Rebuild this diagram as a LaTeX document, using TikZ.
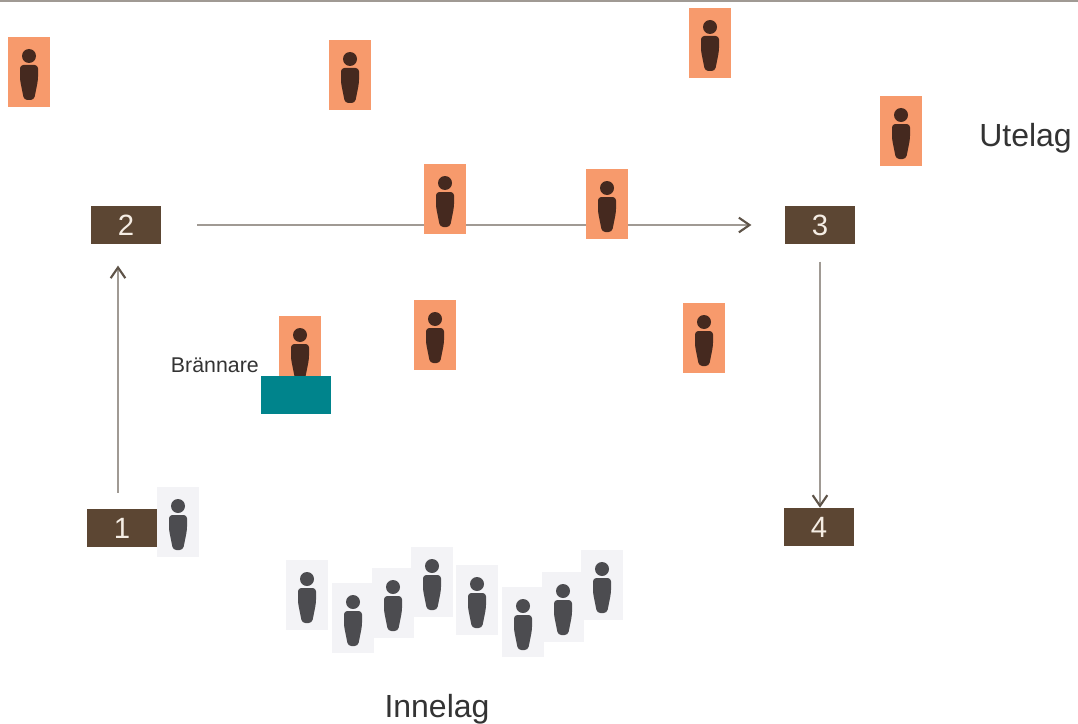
\documentclass[tikz,border=0pt]{standalone}
\usepackage{fontspec}
\setmainfont{Liberation Sans}
\usetikzlibrary{arrows.meta,positioning}

% one figure: backing card, head and body
\newcommand*{\person}[5]{%
  \node [#4] (#1) at (#2,#3) {};
  \begin{scope}[shift={(#1.center)}]
    \fill [#5] (0,-16) circle (5.25pt);
    \fill [#5, rounded corners=2.5pt]
      (-9,-7) -- (9,-7) -- (9,8) -- (5,28) -- (-5,28) -- (-9,8) -- cycle;
  \end{scope}
}

\begin{document}
\begin{tikzpicture}[x=0.75pt, y=-0.75pt,
    card_out/.style ={rectangle, fill=cardorange, minimum width=31.5pt, minimum height=52.5pt, inner sep=0pt},
    card_in/.style ={rectangle, fill=cardgrey, minimum width=31.5pt, minimum height=52.5pt, inner sep=0pt},
    figure_out/.style ={fill=figbrown},
    figure_in/.style ={fill=figgrey},
    block_number/.style ={rectangle, fill=boxbrown, text=numbertext, font=\fontsize{22}{26}\selectfont,
      minimum width=52.5pt, minimum height=28.5pt, inner sep=0pt},
    block_base/.style ={rectangle, fill=baseteal, minimum width=53pt, minimum height=28pt, inner sep=0pt},
    label_team/.style ={text=labeltext, font=\fontsize{24}{28}\selectfont, inner sep=0pt},
    label_small/.style ={text=labeltext, font=\fontsize{16}{19}\selectfont, inner sep=0pt},
    line/.style ={draw=linegrey, line width=1.4pt, -{Straight Barb[length=8pt, width=11pt, line width=1.6pt, color=headgrey]}}]
  \definecolor{cardorange}{HTML}{F79A6C}
  \definecolor{cardgrey}{HTML}{F3F3F6}
  \definecolor{figbrown}{HTML}{45291F}
  \definecolor{figgrey}{HTML}{4C4C50}
  \definecolor{boxbrown}{HTML}{5C4633}
  \definecolor{numbertext}{HTML}{F5EDE4}
  \definecolor{baseteal}{HTML}{00848C}
  \definecolor{labeltext}{HTML}{333333}
  \definecolor{linegrey}{HTML}{A09A94}
  \definecolor{headgrey}{HTML}{5E5348}
  \useasboundingbox (0,0) rectangle (1078,724);
  \fill [linegrey] (0,0) rectangle (1078,2);
  % number boxes
  \node [block_number] (one) at (122,528) {1};
  \node [block_number] (two) at (126,225) {2};
  \node [block_number] (three) at (820,225) {3};
  \node [block_number] (four) at (819,527) {4};
  % connecting nodes with paths
  \begin{scope}[every path/.style=line]
    \path ([xshift=-3pt]one.north) [shorten <=12pt, shorten >=16pt] -- ([xshift=-6pt]two.south);
    \path (two.east) [shorten <=27pt, shorten >=25pt] -- (three.west);
    \path (three.south) [shorten <=13pt, shorten >=0pt] -- (three.south |- four.north);
  \end{scope}
  % outfield team
  \person{outa}{29}{72}{card_out}{figure_out}
  \person{outb}{350}{75}{card_out}{figure_out}
  \person{outc}{710}{43}{card_out}{figure_out}
  \person{outd}{901}{131}{card_out}{figure_out}
  \person{oute}{445}{199}{card_out}{figure_out}
  \person{outf}{607}{204}{card_out}{figure_out}
  \person{outg}{435}{335}{card_out}{figure_out}
  \person{outh}{704}{338}{card_out}{figure_out}
  \person{burner}{300}{351}{card_out}{figure_out}
  \node [block_base] (base) at (296,395) {};
  \node [label_small, anchor=east] (burnerlabel) at (259,365) {Brännare};
  % home team
  \person{batter}{178}{522}{card_in}{figure_in}
  \person{ina}{307}{595}{card_in}{figure_in}
  \person{inb}{353}{618}{card_in}{figure_in}
  \person{inc}{393}{603}{card_in}{figure_in}
  \person{ind}{432}{582}{card_in}{figure_in}
  \person{ine}{477}{600}{card_in}{figure_in}
  \person{inf}{523}{622}{card_in}{figure_in}
  \person{ing}{563}{607}{card_in}{figure_in}
  \person{inh}{602}{585}{card_in}{figure_in}
  % team names
  \node [label_team, anchor=west] (outlabel) at (979,138) {Utelag};
  \node [label_team, anchor=base] (inlabel) at (437,717) {Innelag};
\end{tikzpicture}
\end{document}
